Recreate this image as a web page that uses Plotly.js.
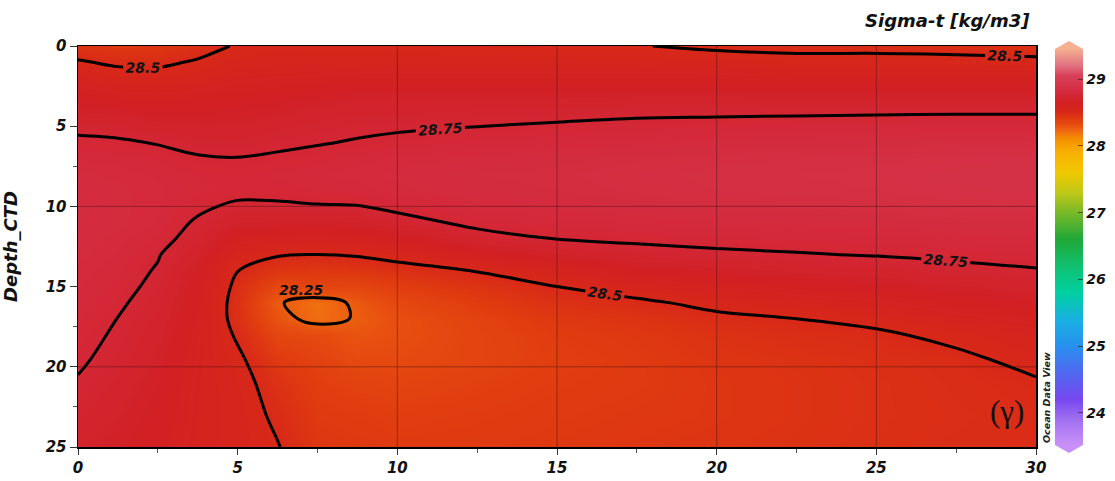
<!DOCTYPE html>
<html>
<head>
<meta charset="utf-8">
<script src="https://cdn.plot.ly/plotly-3.0.1.min.js"></script>
<style>
  html, body { margin: 0; padding: 0; background: #ffffff; }
  #chart { width: 1115px; height: 481px; }
</style>
</head>
<body>
<div id="chart"></div>
<script>
// Distance along section (x axis)
const distance = [0, 1.25, 2.5, 3.75, 5, 6.25, 7.5, 8.75, 10, 12.5, 15, 17.5, 20, 22.5, 25, 27.5, 30];
// Depth levels (m)
const depth = [0, 1, 2, 3.5, 5, 6, 7, 8, 9, 10, 11, 12, 13, 14, 15, 16, 17, 18, 19.5, 21, 23, 25];

// Sigma-t values, one column per distance station (top to bottom = depth list)
const st_x0    = [28.44, 28.51, 28.57, 28.66, 28.73, 28.765, 28.79, 28.81, 28.82, 28.82, 28.82, 28.815, 28.81, 28.80, 28.795, 28.79, 28.78, 28.77, 28.76, 28.745, 28.72, 28.69];
const st_x1_25 = [28.42, 28.48, 28.55, 28.64, 28.72, 28.76, 28.785, 28.80, 28.81, 28.81, 28.81, 28.80, 28.79, 28.78, 28.77, 28.76, 28.749, 28.742, 28.729, 28.71, 28.69, 28.67];
const st_x2_5  = [28.43, 28.48, 28.54, 28.63, 28.70, 28.745, 28.775, 28.79, 28.795, 28.795, 28.79, 28.775, 28.755, 28.744, 28.734, 28.721, 28.708, 28.697, 28.68, 28.665, 28.65, 28.635];
const st_x3_75 = [28.46, 28.51, 28.56, 28.64, 28.69, 28.725, 28.757, 28.775, 28.78, 28.765, 28.74, 28.72, 28.69, 28.66, 28.64, 28.625, 28.615, 28.605, 28.595, 28.59, 28.585, 28.58];
const st_x5    = [28.51, 28.55, 28.59, 28.65, 28.69, 28.72, 28.752, 28.77, 28.775, 28.735, 28.69, 28.62, 28.55, 28.502, 28.47, 28.455, 28.46, 28.485, 28.52, 28.54, 28.55, 28.555];
const st_x6_25 = [28.53, 28.56, 28.60, 28.66, 28.71, 28.735, 28.76, 28.78, 28.77, 28.74, 28.68, 28.60, 28.51, 28.43, 28.34, 28.26, 28.29, 28.35, 28.41, 28.45, 28.48, 28.505];
const st_x7_5  = [28.52, 28.56, 28.61, 28.68, 28.725, 28.745, 28.77, 28.79, 28.78, 28.745, 28.68, 28.59, 28.50, 28.42, 28.36, 28.20, 28.21, 28.33, 28.37, 28.39, 28.41, 28.43];
const st_x8_75 = [28.52, 28.56, 28.62, 28.69, 28.735, 28.755, 28.785, 28.80, 28.785, 28.747, 28.685, 28.60, 28.51, 28.43, 28.35, 28.27, 28.26, 28.29, 28.33, 28.37, 28.40, 28.42];
const st_x10   = [28.52, 28.56, 28.62, 28.69, 28.74, 28.765, 28.795, 28.81, 28.80, 28.77, 28.72, 28.64, 28.54, 28.455, 28.39, 28.34, 28.31, 28.31, 28.33, 28.36, 28.39, 28.41];
const st_x12_5 = [28.51, 28.56, 28.62, 28.70, 28.749, 28.78, 28.81, 28.825, 28.82, 28.80, 28.77, 28.72, 28.62, 28.505, 28.44, 28.40, 28.37, 28.36, 28.36, 28.38, 28.40, 28.41];
const st_x15   = [28.505, 28.56, 28.62, 28.70, 28.76, 28.79, 28.82, 28.83, 28.825, 28.81, 28.785, 28.753, 28.68, 28.57, 28.50, 28.45, 28.42, 28.40, 28.39, 28.40, 28.41, 28.42];
const st_x17_5 = [28.505, 28.56, 28.62, 28.71, 28.77, 28.80, 28.83, 28.84, 28.835, 28.82, 28.795, 28.765, 28.72, 28.64, 28.555, 28.48, 28.44, 28.42, 28.41, 28.41, 28.42, 28.43];
const st_x20   = [28.48, 28.55, 28.62, 28.71, 28.775, 28.81, 28.84, 28.85, 28.845, 28.83, 28.805, 28.775, 28.735, 28.67, 28.60, 28.53, 28.475, 28.45, 28.435, 28.43, 28.43, 28.44];
const st_x22_5 = [28.47, 28.535, 28.61, 28.71, 28.78, 28.815, 28.845, 28.855, 28.85, 28.835, 28.81, 28.78, 28.745, 28.69, 28.63, 28.565, 28.50, 28.47, 28.45, 28.445, 28.445, 28.45];
const st_x25   = [28.47, 28.535, 28.61, 28.71, 28.785, 28.82, 28.85, 28.86, 28.855, 28.84, 28.815, 28.785, 28.755, 28.705, 28.65, 28.59, 28.525, 28.485, 28.465, 28.46, 28.46, 28.465];
const st_x27_5 = [28.465, 28.53, 28.61, 28.71, 28.79, 28.83, 28.86, 28.87, 28.865, 28.85, 28.825, 28.795, 28.765, 28.73, 28.68, 28.63, 28.58, 28.525, 28.48, 28.475, 28.47, 28.475];
const st_x30   = [28.46, 28.52, 28.61, 28.71, 28.79, 28.83, 28.865, 28.875, 28.87, 28.855, 28.83, 28.805, 28.775, 28.745, 28.70, 28.655, 28.61, 28.57, 28.53, 28.49, 28.48, 28.48];

const stations = [st_x0, st_x1_25, st_x2_5, st_x3_75, st_x5, st_x6_25, st_x7_5, st_x8_75, st_x10,
                  st_x12_5, st_x15, st_x17_5, st_x20, st_x22_5, st_x25, st_x27_5, st_x30];

// Tick labels / levels
const xTicks = [0, 5, 10, 15, 20, 25, 30];
const yTicks = [0, 5, 10, 15, 20, 25];
const yMinorTicks = [7.5, 17.5, 22.5];
const cbTicks = [24, 25, 26, 27, 28, 29];
const contourLevels = {start: 28.25, end: 28.75, size: 0.25};
const smallLoopLabel = {text: '28.25', x: 7.0, y: 15.2};
const gridX = [10, 15, 20, 25];
const gridY = [10, 20];

// ODV-like colour table (value -> colour)
const zMin = 23.52, zMax = 29.45;
const csValues = [23.52, 23.9, 24.2, 24.6, 25.0, 25.4, 25.8, 26.2, 26.6, 27.0, 27.3, 27.6, 27.9, 28.1, 28.2, 28.3, 28.4, 28.5, 28.65, 28.8, 28.9, 29.05, 29.2, 29.45];
const csColors = ['#c890f8', '#a070f0', '#7848f0', '#5068f0', '#2890f0', '#18b0e0', '#00d0a0', '#10c070', '#20a838', '#78b828', '#c0c818', '#f0c800', '#f8b000', '#f49000', '#f07010', '#e85010', '#e03c10', '#d82818', '#d22024', '#d42a3c', '#d6344a', '#d84058', '#e07080', '#f4b090'];
const colorscale = csValues.map((v, i) => [(v - zMin) / (zMax - zMin), csColors[i]]);

// Build z matrix: rows = depth, cols = distance
const z = depth.map((d, r) => stations.map(col => col[r]));

const boldItalic = (size, extra) => Object.assign({family: 'DejaVu Sans', size: size, color: '#111', weight: 'bold', style: 'italic'}, extra || {});

const fill = {
  type: 'heatmap',
  x: distance, y: depth, z: z,
  zsmooth: 'best',
  zauto: false, zmin: zMin, zmax: zMax,
  colorscale: colorscale,
  hoverinfo: 'skip',
  colorbar: {
    x: 1.0198, xanchor: 'left', xpad: 0,
    y: 0.005, yanchor: 'bottom', ypad: 0,
    len: 0.9875, lenmode: 'fraction',
    thickness: 28, thicknessmode: 'pixels',
    outlinewidth: 0, borderwidth: 0,
    tickmode: 'array', tickvals: cbTicks, ticktext: cbTicks.map(String),
    ticks: 'inside', ticklen: 5, tickwidth: 1, tickcolor: 'rgba(40,20,20,0.6)',
    tickfont: boldItalic(14),
    ticklabelposition: 'outside'
  }
};

const lines = {
  type: 'contour',
  x: distance, y: depth, z: z,
  autocontour: false,
  contours: Object.assign({coloring: 'none', showlabels: true, labelfont: boldItalic(14, {color: '#111'})}, contourLevels),
  line: {color: '#000', width: 3, smoothing: 1},
  showscale: false,
  hoverinfo: 'skip'
};

const cbL = 1.0198, cbR = 1.0491, cbC = (cbL + cbR) / 2;
const shapes = [];
gridX.forEach(v => shapes.push({type: 'line', xref: 'x', yref: 'paper', x0: v, x1: v, y0: 0, y1: 1, layer: 'above', line: {color: 'rgba(60,20,20,0.45)', width: 1}}));
gridY.forEach(v => shapes.push({type: 'line', xref: 'paper', yref: 'y', x0: 0, x1: 1, y0: v, y1: v, layer: 'above', line: {color: 'rgba(60,20,20,0.45)', width: 1}}));
// colour bar end caps (over/under arrows)
shapes.push({type: 'path', xref: 'paper', yref: 'paper', path: `M ${cbL},0.9925 L ${cbC},1.0125 L ${cbR},0.9925 Z`, fillcolor: '#f4b090', line: {width: 0}});
shapes.push({type: 'path', xref: 'paper', yref: 'paper', path: `M ${cbL},0.005 L ${cbC},-0.015 L ${cbR},0.005 Z`, fillcolor: '#c890f8', line: {width: 0}});

const layout = {
  width: 1115, height: 481,
  margin: {l: 78, r: 79, t: 46, b: 34, autoexpand: false},
  paper_bgcolor: '#ffffff', plot_bgcolor: '#ffffff',
  showlegend: false,
  xaxis: {
    range: [0, 30], tickmode: 'array', tickvals: xTicks, ticktext: xTicks.map(String),
    ticks: 'outside', ticklen: 6, tickwidth: 1, tickcolor: '#333',
    minor: {dtick: 2.5, ticks: 'outside', ticklen: 4, tickcolor: '#555', showgrid: false},
    tickfont: boldItalic(15),
    showline: true, linecolor: '#000', linewidth: 1.5, mirror: true,
    showgrid: false, zeroline: false, layer: 'above traces'
  },
  yaxis: {
    range: [25, 0], tickmode: 'array', tickvals: yTicks, ticktext: yTicks.map(String),
    ticks: 'outside', ticklen: 7, tickwidth: 1, tickcolor: '#333',
    minor: {tickmode: 'array', tickvals: yMinorTicks, ticks: 'outside', ticklen: 4, tickcolor: '#555', showgrid: false},
    tickfont: boldItalic(15),
    showline: true, linecolor: '#000', linewidth: 1.5, mirror: true,
    showgrid: false, zeroline: false, layer: 'above traces',
    title: {text: 'Depth_CTD', font: boldItalic(18), standoff: 24}
  },
  shapes: shapes,
  annotations: [
    {text: 'Sigma-t [kg/m3]', xref: 'paper', yref: 'paper', x: 0.9958, y: 1.0648, xanchor: 'right', yanchor: 'middle', showarrow: false, font: boldItalic(18)},
    {text: smallLoopLabel.text, xref: 'x', yref: 'y', x: smallLoopLabel.x, y: smallLoopLabel.y, xanchor: 'center', yanchor: 'middle', showarrow: false, font: boldItalic(14)},
    {text: '(γ)', xref: 'paper', yref: 'paper', x: 0.9697, y: 0.0873, xanchor: 'center', yanchor: 'middle', showarrow: false, font: {family: 'Liberation Serif', size: 31, color: '#111'}},
    {text: 'Ocean Data View', xref: 'paper', yref: 'paper', x: 1.0115, y: 0.1222, xanchor: 'center', yanchor: 'middle', textangle: -90, showarrow: false, font: boldItalic(9.5, {color: '#222'})}
  ]
};

Plotly.newPlot('chart', [fill, lines], layout, {displayModeBar: false, staticPlot: true});
</script>
</body>
</html>
